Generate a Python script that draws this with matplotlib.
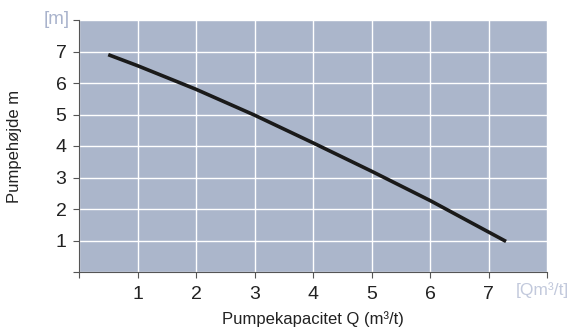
import matplotlib
matplotlib.use('Agg')
import matplotlib.pyplot as plt

# pump curve
q = [0.5, 1.0, 2.0, 3.0, 4.0, 5.0, 6.0, 7.3]
h = [6.9, 6.55, 5.8, 4.98, 4.1, 3.2, 2.27, 0.97]
xticks = [1, 2, 3, 4, 5, 6, 7]
yticks = [1, 2, 3, 4, 5, 6, 7]

plt.rcParams['font.family'] = ['Liberation Sans', 'DejaVu Sans']

fig = plt.figure(figsize=(5.68, 3.31), dpi=100)
ax = fig.add_axes([79/568, 1 - 272/331, (547-79)/568, (272-20)/331])
ax.set_facecolor('#abb6cb')
ax.plot(q, h, color='#1a1a1a', linewidth=2.6, solid_capstyle='butt')

ax.set_xlim(0, 8)
ax.set_ylim(0, 8)
ax.set_xticks(range(0, 9))
ax.set_xticklabels([''] + [str(t) for t in xticks] + [''])
ax.set_yticks(range(0, 9))
ax.set_yticklabels([''] + [str(t) for t in yticks] + [''])
ax.grid(True, color='white', linewidth=1.0)
ax.set_axisbelow(True)
for s in ['top', 'right']:
    ax.spines[s].set_visible(False)
for s in ['left', 'bottom']:
    ax.spines[s].set_color('#555555')
ax.tick_params(colors='#555555', labelcolor='#222222', labelsize=14,
               length=4, direction='out')
ax.tick_params(axis='x', pad=6)
ax.tick_params(axis='y', pad=5)

ax.set_xlabel('Pumpekapacitet Q (m³/t)', fontsize=12, color='#222222', labelpad=6)
ax.set_ylabel('Pumpehøjde m', fontsize=12, color='#222222', labelpad=24)
ax.text(-0.02, 1.0, '[m]', transform=ax.transAxes, ha='right', va='center',
        fontsize=13.5, color='#a9b3cc')
ax.text(0.99, -0.07, '[Qm³/t]', transform=ax.transAxes, ha='center', va='center',
        fontsize=12.5, color='#c2c9dc')

fig.savefig('out.png', dpi=100)
